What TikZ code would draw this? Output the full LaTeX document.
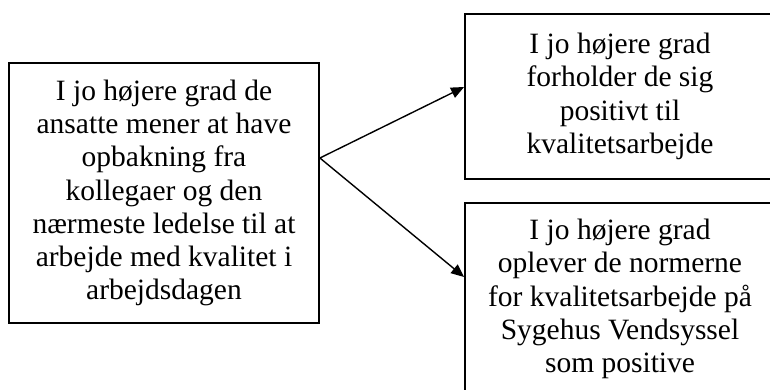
\documentclass[tikz,border=0pt]{standalone}
\usepackage{fontspec}
\setmainfont{Liberation Serif}
\usetikzlibrary{arrows.meta}
\begin{document}
\begin{tikzpicture}[x=1pt,y=-1pt,
  box/.style={draw, line width=1.8pt, inner sep=0pt, align=center,
    font=\fontsize{29.5}{33.3}\selectfont},
  arr/.style={line width=1.4pt, -{Triangle[length=13pt,width=11pt]}}]
\useasboundingbox (0,0) rectangle (770,389);
\clip (0,0) rectangle (770,389);
\node[box, minimum width=310pt, minimum height=260pt] (L) at (164,193)
  {I jo højere grad de\\ansatte mener at have\\opbakning fra\\kollegaer og den\\nærmeste ledelse til at\\arbejde med kvalitet i\\arbejdsdagen};
\node[box, minimum width=310pt, minimum height=165pt] (T) at (620,96.5)
  {I jo højere grad\\forholder de sig\\positivt til\\kvalitetsarbejde};
\node[box, minimum width=310pt, minimum height=192pt] (B) at (620,299)
  {I jo højere grad\\oplever de normerne\\for kvalitetsarbejde på\\Sygehus Vendsyssel\\som positive};
\coordinate (s) at ([yshift=35pt]L.east);
\coordinate (t) at ([yshift=9.5pt]T.west);
\coordinate (b) at ([yshift=22pt]B.west);
\draw[arr] (s) -- (t);
\draw[arr] (s) -- (b);
\end{tikzpicture}
\end{document}
